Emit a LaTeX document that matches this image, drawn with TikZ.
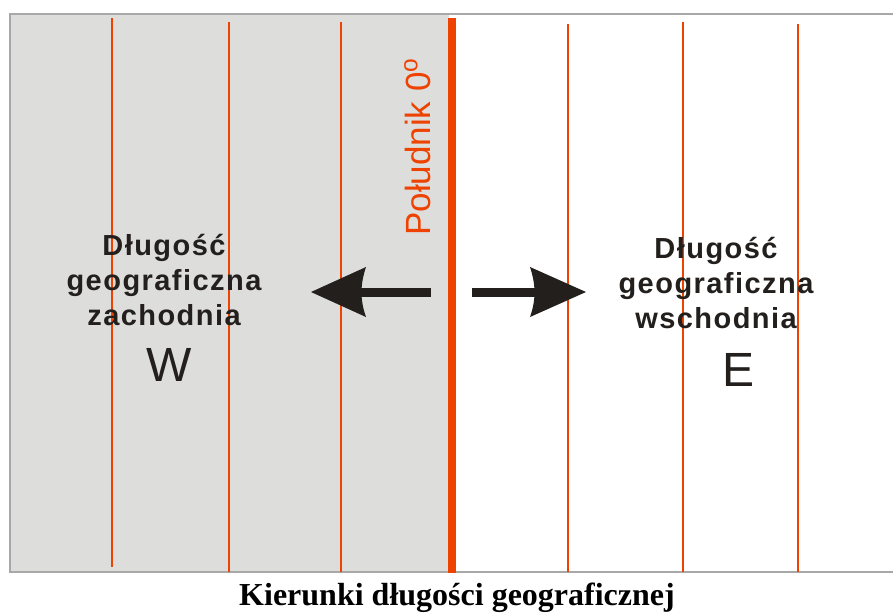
\documentclass[tikz,border=0pt]{standalone}
\usepackage{fontspec}
\setmainfont{Liberation Serif}
\setsansfont{Liberation Sans}
\newfontfamily\trackedsans[LetterSpace=5]{Liberation Sans}
\definecolor{meridian}{HTML}{EE4200}
\definecolor{westfill}{HTML}{DDDDDC}
\definecolor{frame}{HTML}{A8A8A8}
\definecolor{arrowc}{HTML}{221F1C}
\begin{document}
\begin{tikzpicture}[x=1pt,y=-1pt,
  thinmer/.style={draw=meridian,line width=1.6pt},
  areatext/.style={font=\trackedsans\bfseries\fontsize{29}{35}\selectfont,align=center,text=arrowc,inner sep=0pt},
  letter/.style={font=\sffamily\fontsize{48}{48}\selectfont,text=arrowc,inner sep=0pt},
  arrowbody/.style={fill=arrowc,draw=none}]
\useasboundingbox (0,0) rectangle (893,613);
\fill[white] (0,0) rectangle (893,613);
% west area
\fill[westfill] (10,14) rectangle (449,572);
% frame
\draw[frame,line width=2pt] (893,14) -- (10,14) -- (10,572) -- (893,572);
% thin meridians
\draw[thinmer] (112,18) -- (112,567);
\draw[thinmer] (229,22) -- (229,572);
\draw[thinmer] (341,22) -- (341,572);
\draw[thinmer] (568,24) -- (568,572);
\draw[thinmer] (683,22) -- (683,572);
\draw[thinmer] (798,24) -- (798,572);
% prime meridian
\fill[meridian] (448,18) rectangle (456,573);
\node[rotate=90,anchor=south west,inner sep=0pt,text=meridian,font=\sffamily\fontsize{35}{35}\selectfont] (pm) at (431,236) {Południk 0\raisebox{4pt}{\textsuperscript{o}}};
% arrows
\fill[arrowbody] (358,287.5) rectangle (431,296.5);
\fill[arrowbody] (311,292) -- (366,267) .. controls (360,285) and (360,300) .. (366,317) -- cycle;
\fill[arrowbody] (472,287.5) rectangle (538,296.5);
\fill[arrowbody] (586,292) -- (530,267) .. controls (536,285) and (536,300) .. (530,317) -- cycle;
% texts
\node[areatext] (west) at (164,280) {Długość\\geograficzna\\zachodnia};
\node[areatext] (east) at (716,283) {Długość\\geograficzna\\wschodnia};
\node[letter] (W) at (169,364.5) {W};
\node[letter] (E) at (738,370) {E};
\node[font=\rmfamily\bfseries\fontsize{32}{32}\selectfont,inner sep=0pt] (title) at (457,598) {Kierunki długości geograficznej};
\end{tikzpicture}
\end{document}
